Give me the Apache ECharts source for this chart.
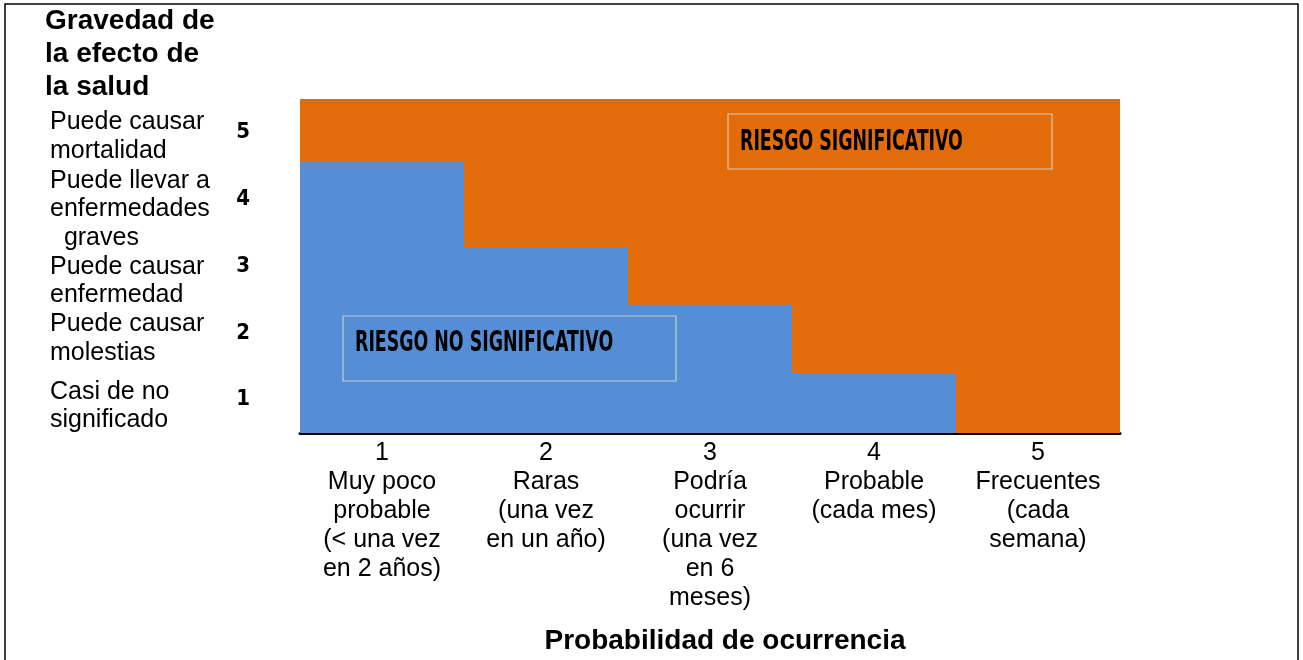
<!DOCTYPE html>
<html>
<head>
<meta charset="utf-8">
<script src="https://cdn.jsdelivr.net/npm/echarts@6/dist/echarts.min.js"></script>
<style>
  html, body { margin: 0; padding: 0; background: #fff; }
  #chart { width: 1303px; height: 660px; }
</style>
</head>
<body>
<div id="chart"></div>
<script>
// categorias de probabilidad (eje x)
const probLabels = [
  '1\nMuy poco\nprobable\n(< una vez\nen 2 años)',
  '2\nRaras\n(una vez\nen un año)',
  '3\nPodría\nocurrir\n(una vez\nen 6\nmeses)',
  '4\nProbable\n(cada mes)',
  '5\nFrecuentes\n(cada\nsemana)'
];
// niveles de gravedad (eje y), de abajo hacia arriba
const severityLevels = ['1', '2', '3', '4', '5'];
const severityLabels = [
  'Casi de no\nsignificado',
  'Puede causar\nmolestias',
  'Puede causar\nenfermedad',
  'Puede llevar a\nenfermedades\n  graves',
  'Puede causar\nmortalidad'
];
// altura de cada zona por columna
const significantTop = [5, 5, 5, 5, 5];
const notSignificant = [4.06, 2.78, 1.92, 0.9, 0];

// desplazamiento vertical de cada texto descriptivo (solo maquetación)
const labelShift = [13, 12, 30, 20, 8];

const condensed = "'DejaVu Sans Condensed', sans-serif";
const sans = "'Liberation Sans', Arial, sans-serif";

const rich = { t: { fontFamily: sans, fontSize: 25, lineHeight: 28.5, color: '#000' } };
labelShift.forEach((h, i) => { rich['g' + i] = { fontSize: 2, lineHeight: h }; });

const chart = echarts.init(document.getElementById('chart'));

const option = {
  backgroundColor: '#fff',
  animation: false,
  title: {
    text: 'Gravedad de\nla efecto de\nla salud',
    left: 45,
    top: 5,
    padding: 0,
    textStyle: { fontFamily: sans, fontSize: 28, fontWeight: 'bold', lineHeight: 33, color: '#000' }
  },
  grid: { left: 300, right: 183, top: 99, bottom: 227, outerBoundsMode: 'none', containLabel: false },
  xAxis: {
    type: 'category',
    data: probLabels,
    axisLine: { lineStyle: { color: '#000', width: 3 } },
    axisTick: { show: false },
    axisLabel: {
      interval: 0, margin: 6, color: '#000',
      fontFamily: sans, fontSize: 25, lineHeight: 29, align: 'center'
    },
    name: 'Probabilidad de ocurrencia',
    nameLocation: 'middle',
    nameGap: 194,
    nameTextStyle: {
      fontFamily: sans, fontSize: 28, fontWeight: 'bold', color: '#000',
      padding: [0, 0, 0, 30]
    }
  },
  yAxis: [
    { type: 'value', min: 0, max: 5, show: false },
    {
      type: 'category', data: severityLevels, position: 'left',
      axisLine: { show: false }, axisTick: { show: false },
      axisLabel: {
        interval: 0, margin: 50, color: '#000',
        fontFamily: condensed, fontWeight: 'bold', fontSize: 22
      }
    },
    {
      type: 'category', data: severityLabels, position: 'left',
      axisLine: { show: false }, axisTick: { show: false },
      axisLabel: {
        interval: 0, hideOverlap: false, margin: 250, align: 'left',
        formatter: (value, index) =>
          '{g' + index + '| }\n' + value.split('\n').map(s => '{t|' + s + '}').join('\n'),
        rich: rich
      }
    }
  ],
  series: [
    {
      name: 'RIESGO SIGNIFICATIVO', type: 'bar', data: significantTop,
      barWidth: '100%', barGap: '-100%', itemStyle: { color: '#E36C0A' }, silent: true
    },
    {
      name: 'RIESGO NO SIGNIFICATIVO', type: 'bar', data: notSignificant,
      barWidth: '100%', barGap: '-100%', itemStyle: { color: '#558ED5' }, silent: true
    }
  ],
  graphic: [
    {
      type: 'rect', silent: true,
      shape: { x: 5, y: 4, width: 1293, height: 700 },
      style: { fill: 'none', stroke: '#000', lineWidth: 1.5 }
    },
    {
      type: 'rect', z: 10,
      shape: { x: 728, y: 114, width: 324, height: 55 },
      style: { fill: 'none', stroke: 'rgba(215,215,215,0.85)', lineWidth: 1.2 }
    },
    {
      type: 'text', x: 740, y: 143, scaleX: 0.69, z: 10,
      style: {
        text: 'RIESGO SIGNIFICATIVO', fill: '#000', font: 'bold 28px ' + condensed,
        align: 'left', verticalAlign: 'middle'
      }
    },
    {
      type: 'rect', z: 10,
      shape: { x: 343, y: 316, width: 333, height: 65 },
      style: { fill: 'none', stroke: 'rgba(215,215,215,0.85)', lineWidth: 1.2 }
    },
    {
      type: 'text', x: 355, y: 344, scaleX: 0.69, z: 10,
      style: {
        text: 'RIESGO NO SIGNIFICATIVO', fill: '#000', font: 'bold 28px ' + condensed,
        align: 'left', verticalAlign: 'middle'
      }
    }
  ]
};

chart.setOption(option);
</script>
</body>
</html>
